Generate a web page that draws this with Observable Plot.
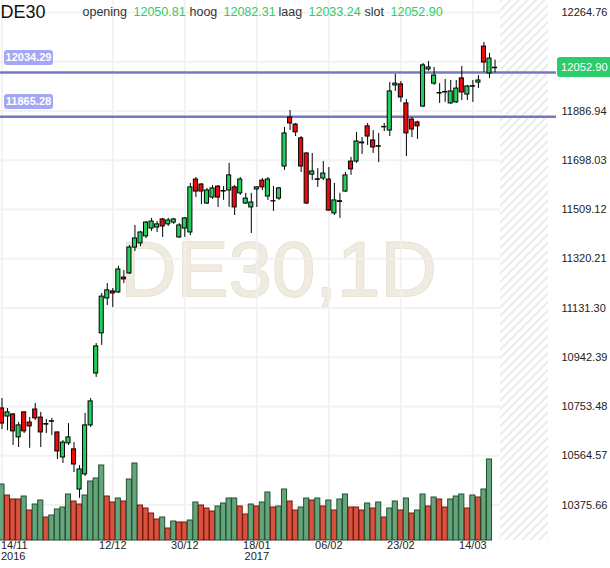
<!DOCTYPE html>
<html><head><meta charset="utf-8">
<script src="https://cdn.jsdelivr.net/npm/d3@7"></script>
<script src="https://cdn.jsdelivr.net/npm/@observablehq/plot@0.6"></script>
<style>
body{margin:0;background:#fff;font-family:"Liberation Sans",Arial,sans-serif;}
#wrap{position:relative;width:610px;height:568px;overflow:hidden;background:#fff;}
#wrap svg{position:absolute;left:0;top:0;}
.lvl{position:absolute;left:4px;width:49px;height:15px;line-height:15px;border-radius:3px;background:#a4a8f4;color:#fff;font-weight:bold;font-size:11px;text-align:center;}
.cur{position:absolute;left:557px;width:56px;height:20px;line-height:20px;border-radius:3px;background:#2dcb6b;color:#fff;font-size:11.2px;padding-left:4px;box-sizing:border-box;}
</style></head>
<body><div id="wrap"></div>
<script>
const symbol = "DE30";
const watermark = "DE30,1D";
const open = [10746,10715,10723,10635,10731,10692,10742,10711,10686,10695,
10654,10558,10612,10589,10435,10493,10681,10880,11034,11168,
11195,11191,11248,11264,11363,11379,11406,11436,11440,11471,
11452,11459,11402,11436,11421,11624,11605,11532,11555,11597,
11580,11582,11594,11571,11532,11517,11586,11620,11559,11541,
11551,11674,11862,11835,11782,11724,11643,11625,11628,11624,
11494,11538,11578,11693,11693,11763,11828,11774,11752,11824,
11812,11985,11989,11916,11854,11843,11904,12046,11992,11954,
11958,11916,11920,12012,11950,11980,11996,12134,12031,12050.81];
const high = [10784,10746,10727,10692,10734,10711,10765,10731,10704,10708,
10655,10623,10688,10615,10527,10727,10784,10995,11187,11225,
11206,11291,11275,11371,11448,11425,11463,11475,11463,11475,
11475,11475,11455,11478,11609,11632,11609,11590,11601,11601,
11597,11686,11601,11632,11571,11571,11597,11628,11632,11597,
11594,11824,11889,11839,11789,11727,11724,11666,11693,11670,
11609,11571,11651,11709,11805,11785,11839,11812,11801,11839,
11996,12027,12000,11931,11862,11847,12069,12077,12054,11992,
12008,12004,12004,12058,11985,12004,12023,12150,12108,12082.31];
const low = [10665,10661,10604,10596,10650,10593,10700,10596,10650,10642,
10550,10535,10604,10500,10401,10485,10673,10865,10988,11141,
11133,11187,11225,11260,11348,11367,11398,11425,11421,11402,
11444,11452,11398,11402,11409,11555,11528,11528,11548,11517,
11544,11517,11486,11563,11528,11417,11517,11582,11544,11502,
11544,11659,11812,11789,11651,11528,11620,11594,11620,11502,
11486,11475,11574,11640,11686,11720,11755,11724,11689,11808,
11789,11962,11920,11712,11785,11778,11900,12039,11985,11916,
11920,11912,11916,11927,11927,11920,11973,12035,12012,12033.24];
const close = [10688,10731,10658,10681,10658,10677,10708,10654,10684,10697,
10581,10615,10635,10531,10512,10681,10773,10984,11175,11199,
11187,11279,11241,11363,11398,11421,11459,11463,11452,11444,
11467,11471,11448,11475,11594,11578,11578,11582,11590,11555,
11578,11640,11517,11624,11551,11536,11594,11594,11624,11540,
11590,11801,11839,11805,11674,11532,11655,11623,11647,11505,
11544,11541,11640,11663,11770,11766,11789,11747,11750,11826,
11962,11992,11939,11801,11816,11828,12062,12054,12023,11956,
11960,11962,11973,11958,11981,11982,12004,12073,12088,12052.90];
// relative volume (no scale shown in the chart)
const volume = [56,45,41,41,44,30,36,40,23,25,
31,33,46,39,36,45,59,62,75,44,
38,42,39,61,77,35,32,27,21,23,
12,19,18,18,20,38,35,32,29,34,
37,42,42,34,26,36,34,38,48,33,
34,51,39,30,33,42,40,42,34,40,
30,41,46,33,33,30,37,32,38,23,
32,39,30,42,27,30,46,34,43,41,
33,41,44,46,32,45,43,51,81];
const volUp = [1,0,0,0,1,0,1,1,0,1,
1,1,1,0,0,1,1,1,1,0,
0,1,0,1,1,0,0,0,0,1,
0,1,0,0,1,1,0,0,0,1,
1,1,1,0,0,1,0,1,1,0,
1,1,0,0,1,1,0,1,0,1,
0,1,1,0,0,0,1,0,1,0,
1,1,0,1,0,1,1,0,1,0,
0,1,1,1,0,1,0,1,1];
const levels = [12034.29, 11865.28];
const yTicks = [12264.76,12075.85,11886.94,11698.03,11509.12,11320.21,11131.30,10942.39,10753.48,10564.57,10375.66];
const xTickIdx = [0,20,33,46,59,72,85];
const xTickLabels = ["14/11","12/12","30/12","18/01","06/02","23/02","14/03"];
const xTickYears = ["2016","","","2017","","",""];

const W = 610, H = 568;
const FONT = "Liberation Sans, Arial, sans-serif";
const GREEN = "#23cf5c", RED = "#ee0a0a", HDRGREEN = "#2ecc68";
const n = close.length;
const candles = close.map((c, i) => ({i, open: open[i], high: high[i], low: low[i], close: c}));
const vols = volume.map((v, i) => ({i, v, up: volUp[i]}));
const last = candles[n - 1];

const xCfg = {domain: [-0.27, 98.65]};
const yCfg = {domain: [10375.66, 12264.76], range: [504.5, 12]};
const common = {width: W, height: H, marginLeft: 0, marginRight: 62, marginTop: 0, marginBottom: 28,
  style: {background: "transparent", fontFamily: FONT, overflow: "visible"}};

const xt = xTickIdx.map((x, k) => ({x, label: xTickLabels[k], year: xTickYears[k]}));

const header = [
  {t: "opening", dx: 82, c: "#333"}, {t: open[n-1].toFixed(2), dx: 133, c: HDRGREEN},
  {t: "hoog", dx: 189, c: "#333"}, {t: high[n-1].toFixed(2), dx: 223, c: HDRGREEN},
  {t: "laag", dx: 278, c: "#333"}, {t: low[n-1].toFixed(2), dx: 308, c: HDRGREEN},
  {t: "slot", dx: 364, c: "#333"}, {t: close[n-1].toFixed(2), dx: 390, c: HDRGREEN}
];

const bg = Plot.plot({
  ...common,
  x: {...xCfg, axis: null},
  y: {...yCfg, axis: null},
  marks: [
    Plot.text([watermark], {frameAnchor: "middle", dx: 4, dy: 25, lineAnchor: "bottom", fontSize: 78,
      fill: "#efebe1", stroke: "#e4ddcb", strokeWidth: 1.4, fontFamily: FONT}),
    Plot.ruleY(yTicks, {stroke: "#f0f0f0", strokeWidth: 2, strokeOpacity: 0.85}),
    Plot.ruleX(xTickIdx, {stroke: "#f0f0f0", strokeWidth: 2, strokeOpacity: 0.85}),
    Plot.rect([0], {x1: 90, x2: 98.65, fill: "url(#hatch)"}),
    Plot.axisY(yTicks, {anchor: "right", tickSize: 0, tickPadding: 13, fontSize: 11, fill: "#222",
      tickFormat: d => d.toFixed(2), label: null}),
    Plot.text(xt.slice(0, 1), {x: "x", text: "label", frameAnchor: "bottom", dy: 8, textAnchor: "start", dx: -1, fontSize: 11, fill: "#222"}),
    Plot.text(xt.slice(0, 1), {x: "x", text: "year", frameAnchor: "bottom", dy: 19, textAnchor: "start", dx: -1, fontSize: 11, fill: "#222"}),
    Plot.text(xt.slice(1), {x: "x", text: "label", frameAnchor: "bottom", dy: 8, fontSize: 11, fill: "#222"}),
    Plot.text(xt.slice(1), {x: "x", text: "year", frameAnchor: "bottom", dy: 19, fontSize: 11, fill: "#222"}),
    Plot.text([symbol], {frameAnchor: "top-left", dy: 17, lineAnchor: "bottom", fontSize: 18, fill: "#111"}),
    ...header.map(h => Plot.text([h.t], {frameAnchor: "top-left", textAnchor: "start", dx: h.dx, dy: 15,
      lineAnchor: "bottom", fontSize: 12.5, fill: h.c}))
  ]
});
// hatch pattern definition
const defs = d3.select(bg).insert("defs", ":first-child");
const pat = defs.append("pattern").attr("id", "hatch").attr("patternUnits", "userSpaceOnUse")
  .attr("width", 6).attr("height", 6).attr("patternTransform", "rotate(45)");
pat.append("rect").attr("width", 6).attr("height", 6).attr("fill", "#fff");
pat.append("line").attr("x1", 1).attr("y1", 0).attr("x2", 1).attr("y2", 6).attr("stroke", "#ebebeb").attr("stroke-width", 2);

const vol = Plot.plot({
  ...common,
  x: {...xCfg, axis: null},
  y: {domain: [0, 100], range: [540, 440], axis: null},
  marks: [
    Plot.rect(vols, {x1: d => d.i - 0.46, x2: d => d.i + 0.46, y1: 0, y2: "v",
      fill: d => d.up ? "#66a47c" : "#d9523f", stroke: d => d.up ? "#1e5130" : "#74180d", strokeWidth: 1})
  ]
});

const fg = Plot.plot({
  ...common,
  x: {...xCfg, axis: null},
  y: {...yCfg, axis: null},
  marks: [
    Plot.ruleY(levels, {stroke: "#7477c2", strokeWidth: 2.5, insetRight: -8}),
    Plot.ruleX(candles, {x: "i", y1: "low", y2: "high", stroke: "#000", strokeWidth: 1}),
    Plot.rect(candles, {x1: d => d.i - 0.37, x2: d => d.i + 0.37, y1: "open", y2: "close",
      fill: d => d.close >= d.open ? GREEN : RED, stroke: "#000", strokeWidth: 1})
  ]
});

const wrap = document.getElementById("wrap");
wrap.append(bg, vol, fg);

const yScale = d3.scaleLinear(yCfg.domain, yCfg.range);
levels.forEach(l => {
  const d = document.createElement("div");
  d.className = "lvl";
  d.textContent = l.toFixed(2);
  d.style.top = (yScale(l) - 22) + "px";
  wrap.append(d);
});
const cur = document.createElement("div");
cur.className = "cur";
cur.textContent = last.close.toFixed(2);
cur.style.top = (yScale(last.close) - 10) + "px";
wrap.append(cur);
</script></body></html>
